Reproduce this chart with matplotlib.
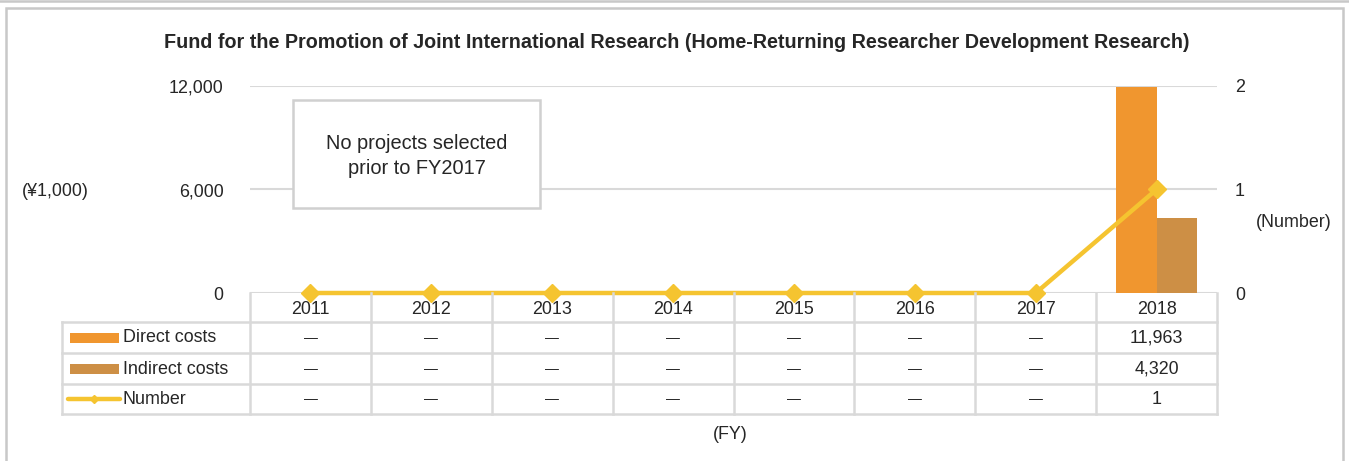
import matplotlib
matplotlib.use("Agg")
import matplotlib.pyplot as plt
import numpy as np
from matplotlib.patches import Rectangle
from matplotlib.lines import Line2D
from matplotlib.transforms import blended_transform_factory

plt.rcParams['font.family'] = ['Liberation Sans', 'DejaVu Sans']

# ---- data ----
years = ['2011', '2012', '2013', '2014', '2015', '2016', '2017', '2018']
direct_costs = [0, 0, 0, 0, 0, 0, 0, 11963]
indirect_costs = [0, 0, 0, 0, 0, 0, 0, 4320]
number = [0, 0, 0, 0, 0, 0, 0, 1]
left_ticks = [0, 6000, 12000]
right_ticks = [0, 1, 2]
series_names = ['Direct costs', 'Indirect costs', 'Number']
title = 'Fund for the Promotion of Joint International Research (Home-Returning Researcher Development Research)'
note = 'No projects selected\nprior to FY2017'

# ---- style ----
W, H = 1349, 461
C_DIRECT = '#F0962F'
C_INDIRECT = '#CD8F45'
C_LINE = '#F5C430'
C_GRID = '#D9D9D9'
C_TEXT = '#262626'
FS = 12.9

fig = plt.figure(figsize=(W / 100, H / 100), dpi=100)

def fx(px):
    return px / W

def fy(py):
    return 1 - py / H

ax_l, ax_r, ax_t, ax_b = 250, 1217, 86, 293
ax = fig.add_axes([fx(ax_l), fy(ax_b), fx(ax_r - ax_l), (ax_b - ax_t) / H])
ax2 = ax.twinx()

x = np.arange(len(years))
bw = 0.335
ax.bar(x - bw / 2, direct_costs, width=bw, color=C_DIRECT, zorder=2)
ax.bar(x + bw / 2, indirect_costs, width=bw, color=C_INDIRECT, zorder=2)
ax.set_xlim(-0.5, len(years) - 0.5)
ax.set_ylim(0, 12000)
ax.set_yticks(left_ticks)
ax.set_yticklabels([f'{v:,}' for v in left_ticks])
ax.set_xticks([])
ax.grid(axis='y', color=C_GRID, linewidth=1.5)
ax.set_axisbelow(True)
ax.tick_params(axis='y', length=0, pad=19, labelsize=FS, labelcolor=C_TEXT)

ax2.plot(x, number, color=C_LINE, linewidth=3.2, marker='D', markersize=9.5,
         clip_on=False, zorder=5)
ax2.set_ylim(0, 2)
ax2.set_yticks(right_ticks)
ax2.tick_params(axis='y', length=0, pad=13, labelsize=FS, labelcolor=C_TEXT)

for a in (ax, ax2):
    for s in a.spines.values():
        s.set_visible(False)

# title & axis labels
fig.text(fx(677), fy(42), title, ha='center', va='center', fontsize=14.2,
         fontweight='bold', color=C_TEXT)
fig.text(fx(55), fy(191), '(¥1,000)', ha='center', va='center', fontsize=FS, color=C_TEXT)
fig.text(fx(1294), fy(222), '(Number)', ha='center', va='center', fontsize=FS, color=C_TEXT)
fig.text(fx(730), fy(434), '(FY)', ha='center', va='center', fontsize=FS, color=C_TEXT)

# annotation box
fig.patches.append(Rectangle((fx(293), fy(208)), fx(540 - 293), (208 - 100) / H,
                             transform=fig.transFigure, facecolor='white',
                             edgecolor='#D0D0D0', linewidth=1.8, zorder=3))
fig.text(fx(417), fy(156), note, ha='center', va='center', fontsize=14.4,
         color=C_TEXT, linespacing=1.45, zorder=4)

# ---- data table ----
tr = blended_transform_factory(ax.transData, fig.transFigure)
row_lines = [322, 353, 384, 414]
row_centers = [309, 338, 369, 399]
tbl_top = 293
leg_left = 62

# vertical lines at category boundaries
for b in np.arange(len(years) + 1) - 0.5:
    fig.lines.append(Line2D([b, b], [fy(tbl_top), fy(row_lines[-1])], transform=tr,
                            color=C_GRID, linewidth=1.8))
# legend column left edge
fig.lines.append(Line2D([fx(leg_left)] * 2, [fy(row_lines[0]), fy(row_lines[-1])],
                        transform=fig.transFigure, color=C_GRID, linewidth=1.8))
# horizontal lines
for yl in row_lines:
    fig.lines.append(Line2D([fx(leg_left), fx(ax_r)], [fy(yl), fy(yl)],
                            transform=fig.transFigure, color=C_GRID, linewidth=1.8))

# year header
for i, yr in enumerate(years):
    fig.text(i, fy(row_centers[0]), yr, transform=tr, ha='center', va='center',
             fontsize=FS, color=C_TEXT)

def fmt(v):
    return '—' if v == 0 else f'{v:,}'

for r, vals in enumerate([direct_costs, indirect_costs, number]):
    for i, v in enumerate(vals):
        s = fmt(v)
        fig.text(i, fy(row_centers[r + 1]), s, transform=tr, ha='center', va='center',
                 fontsize=10 if s == '—' else FS, color=C_TEXT)

# legend keys
for r, (name, col) in enumerate(zip(series_names[:2], [C_DIRECT, C_INDIRECT])):
    yc = row_centers[r + 1]
    fig.patches.append(Rectangle((fx(70), fy(yc + 5)), fx(49), 10 / H,
                                 transform=fig.transFigure, facecolor=col, edgecolor='none'))
yc = row_centers[3]
fig.lines.append(Line2D([fx(68), fx(120)], [fy(yc), fy(yc)], transform=fig.transFigure,
                        color=C_LINE, linewidth=3.2, solid_capstyle='round'))
fig.lines.append(Line2D([fx(94)], [fy(yc)], transform=fig.transFigure, color=C_LINE,
                        marker='D', markersize=4.5, linestyle='none'))
for r, name in enumerate(series_names):
    fig.text(fx(123), fy(row_centers[r + 1]), name, ha='left', va='center',
             fontsize=FS, color=C_TEXT)

# outer frames
fig.patches.append(Rectangle((fx(6), fy(470)), fx(1343 - 6), (470 - 8) / H,
                             transform=fig.transFigure, facecolor='none',
                             edgecolor='#C8C8C8', linewidth=1.8))
fig.lines.append(Line2D([0, 1], [fy(1), fy(1)], transform=fig.transFigure,
                        color='#C8C8C8', linewidth=1.8))

fig.savefig('out.png', dpi=100)
